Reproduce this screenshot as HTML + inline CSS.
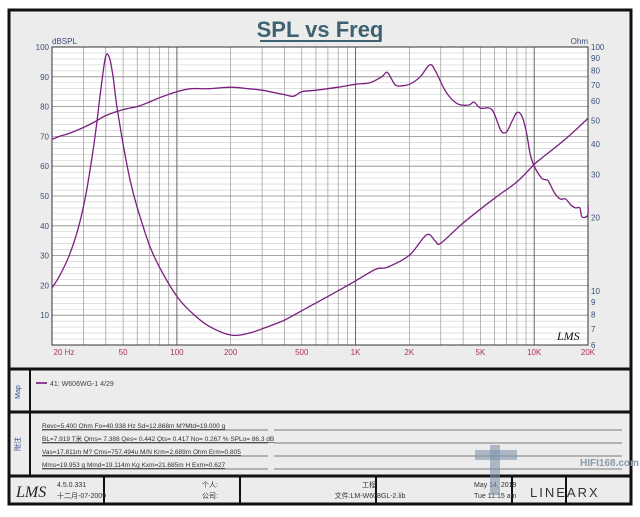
<!DOCTYPE html>
<html><head><meta charset="utf-8"><style>
body{margin:0;width:640px;height:512px;background:#fff;overflow:hidden;font-family:"Liberation Sans","Noto Sans CJK SC",sans-serif}
</style></head><body>
<svg id="s" width="640" height="512" xmlns="http://www.w3.org/2000/svg" font-family="Liberation Sans, Noto Sans CJK SC, sans-serif">
<rect x="0" y="0" width="640" height="512" fill="#fff"/>
<rect x="9" y="10" width="622" height="494" fill="#ececec" stroke="#111" stroke-width="3"/>
<line x1="9" y1="369" x2="631" y2="369" stroke="#111" stroke-width="3"/>
<line x1="9" y1="412" x2="631" y2="412" stroke="#111" stroke-width="3"/>
<line x1="9" y1="476" x2="631" y2="476" stroke="#111" stroke-width="3"/>
<line x1="30" y1="369" x2="30" y2="476" stroke="#111" stroke-width="2"/>
<line x1="104" y1="476" x2="104" y2="504" stroke="#111" stroke-width="2"/>
<line x1="240" y1="476" x2="240" y2="504" stroke="#111" stroke-width="2"/>
<line x1="376" y1="476" x2="376" y2="504" stroke="#111" stroke-width="2"/>
<line x1="512" y1="476" x2="512" y2="504" stroke="#111" stroke-width="2"/>
<line x1="566" y1="476" x2="566" y2="504" stroke="#111" stroke-width="2"/>
<text x="320" y="37" text-anchor="middle" font-size="22" font-weight="bold" fill="#3d6272">SPL vs Freq</text>
<line x1="260" y1="41" x2="381" y2="41" stroke="#3d6272" stroke-width="2"/>
<text x="52" y="44" font-size="8" fill="#3a4f7a">dBSPL</text>
<text x="588" y="44" font-size="8" fill="#3a4f7a" text-anchor="end">Ohm</text>
<rect x="52" y="47" width="536" height="298" fill="#fff"/>
<g id="grid"></g>
<rect x="52" y="47" width="536" height="298" fill="none" stroke="#333" stroke-width="1"/>
<g id="labels" font-size="8" fill="#3a4f7a"></g>
<g id="curves" fill="none" stroke="#7a1f7f" stroke-width="1.3"></g>
<text x="557" y="340" font-size="12" font-style="italic" fill="#111" font-family="Liberation Serif,serif">LMS</text>
<text x="20" y="392" font-size="7" fill="#2a4a8a" transform="rotate(-90 20 392)" text-anchor="middle">Map</text>
<text x="20" y="444" font-size="7" fill="#2a4a8a" transform="rotate(-90 20 444)" text-anchor="middle">附注</text>
<line x1="36" y1="383" x2="47" y2="383" stroke="#8a3f8f" stroke-width="2"/>
<text x="50" y="386" font-size="7" fill="#444">41: W606WG-1  4/29</text>
<g font-size="6.5" fill="#333" text-decoration="underline">
<text x="42" y="428">Revc=5.400 Ohm  Fo=40.938 Hz  Sd=12.868m M?Mtd=19.000 g</text>
<text x="42" y="441">BL=7.919 T米  Qms= 7.388  Qes= 0.442  Qts= 0.417  No= 0.267 %  SPLo= 86.3 dB</text>
<text x="42" y="454">Vas=17.811m M? Cms=757.494u M/N  Krm=2.689m Ohm  Erm=0.805</text>
<text x="42" y="467">Mms=19.953 g  Mmd=19.114m Kg  Kxm=21.685m H  Exm=0.627</text>
</g>
<g stroke="#555" stroke-width="0.8">
<line x1="42" y1="430" x2="268" y2="430"/><line x1="274" y1="430" x2="622" y2="430"/>
<line x1="42" y1="443" x2="268" y2="443"/><line x1="274" y1="443" x2="622" y2="443"/>
<line x1="42" y1="456" x2="268" y2="456"/><line x1="274" y1="456" x2="622" y2="456"/>
<line x1="42" y1="469" x2="268" y2="469"/><line x1="274" y1="469" x2="622" y2="469"/>
</g>
<text x="16" y="497" font-size="16" font-style="italic" fill="#222" font-family="Liberation Serif,serif">LMS</text>
<text x="57" y="487" font-size="7" fill="#333">4.5.0.331</text>
<text x="57" y="498" font-size="7" fill="#333">十二月-07-2009</text>
<text x="210" y="487" font-size="7" fill="#333" text-anchor="middle">个人:</text>
<text x="210" y="498" font-size="7" fill="#333" text-anchor="middle">公司:</text>
<text x="370" y="487" font-size="7" fill="#333" text-anchor="middle">工程:</text>
<text x="370" y="498" font-size="7" fill="#333" text-anchor="middle">文件:LM-W608GL-2.lib</text>
<text x="474" y="487" font-size="7" fill="#333">May 14, 2019</text>
<text x="474" y="498" font-size="7" fill="#333">Tue 11:15 am</text>
<text x="530" y="497" font-size="13" fill="#333" letter-spacing="2">LINEARX</text>
<text x="580" y="466" font-size="10" font-weight="bold" fill="#8a9aaa">HIFI168.com</text>
<rect x="475" y="450" width="42" height="10" fill="#8095aa" opacity="0.6"/>
<rect x="490" y="445" width="10" height="50" fill="#8095aa" opacity="0.6"/>
</svg>
<script>
const NS="http://www.w3.org/2000/svg";
const X0=52,X1=588,Y0=47,Y1=345;
const fx=f=>X0+(Math.log10(f)-Math.log10(20))*(X1-X0)/3;
const dy=d=>Y1-d*2.98;
const zy=z=>Y0+244*Math.log10(100/z);
function el(p,t,a){const e=document.createElementNS(NS,t);for(const k in a)e.setAttribute(k,a[k]);p.appendChild(e);return e;}
const g=document.getElementById('grid'),L=document.getElementById('labels');
for(let d=0;d<=100;d+=2){el(g,'line',{x1:X0,x2:X1,y1:dy(d),y2:dy(d),stroke:d%10==0?'#888':'#ccc','stroke-width':d%10==0?0.8:0.6});}
for(let dec of [10,100,1000,10000])for(let m=1;m<10;m++){const f=dec*m;if(f<20||f>20000)continue;el(g,'line',{x1:fx(f),x2:fx(f),y1:Y0,y2:Y1,stroke:m==1?'#666':'#999','stroke-width':m==1?1:0.7});}
for(let d=10;d<=100;d+=10){const t=el(L,'text',{x:49,y:dy(d)+3,'text-anchor':'end'});t.textContent=d;}
[100,90,80,70,60,50,40,30,20,10,9,8,7,6].forEach(z=>{const t=el(L,'text',{x:591,y:zy(z)+3});t.textContent=z;});
[[20,'20  Hz'],[50,'50'],[100,'100'],[200,'200'],[500,'500'],[1000,'1K'],[2000,'2K'],[5000,'5K'],[10000,'10K'],[20000,'20K']].forEach(([f,s])=>{const t=el(L,'text',{x:fx(f)+(f==20?12:0),y:355,'text-anchor':'middle',fill:'#b03060'});t.textContent=s;});
const spl=[[20,69],[22,70],[25,71],[30,73],[35,75],[40,77],[50,79],[60,80],[70,81.5],[80,83],[100,85],[120,86],[150,86],[200,86.5],[250,86],[300,85.5],[400,84],[450,83.5],[500,85],[600,85.5],[800,86.5],[1000,87.5],[1200,88],[1400,90],[1500,91.5],[1600,89],[1700,87],[2000,87.5],[2300,90],[2600,94],[2800,92],[3200,85],[3700,81],[4300,80.5],[4600,81.5],[5000,79.5],[5800,79],[6500,72],[7000,71.5],[7500,75],[8000,78],[8500,77],[9000,72],[9500,64],[10000,60],[11000,56],[11500,55.5],[12000,55],[13000,51],[14000,49],[15000,49],[16000,47],[17000,46],[18000,46],[18500,43],[19900,43.5],[20000,47]];
const imp=[[20,10.3],[22,11.5],[25,14],[28,18],[31,25],[34,38],[36,52],[38,72],[40,92],[42,90],[44,75],[46,58],[50,40],[55,28],[60,22],[70,15.5],[80,12.5],[100,9.5],[120,8.2],[150,7.2],[200,6.6],[250,6.7],[300,7],[400,7.6],[500,8.3],[700,9.5],[1000,11],[1300,12.3],[1500,12.5],[2000,14],[2500,17],[2800,16],[3000,15.7],[4000,19],[6000,24],[8000,28],[10000,33],[11000,35],[15000,42],[20000,51]];
function path(pts){let d='M'+pts[0][0]+','+pts[0][1];for(let i=0;i<pts.length-1;i++){const p0=pts[Math.max(0,i-1)],p1=pts[i],p2=pts[i+1],p3=pts[Math.min(pts.length-1,i+2)];const c1=[p1[0]+(p2[0]-p0[0])/6,p1[1]+(p2[1]-p0[1])/6],c2=[p2[0]-(p3[0]-p1[0])/6,p2[1]-(p3[1]-p1[1])/6];d+=` C${c1[0].toFixed(1)},${c1[1].toFixed(1)} ${c2[0].toFixed(1)},${c2[1].toFixed(1)} ${p2[0].toFixed(1)},${p2[1].toFixed(1)}`;}return d;}
const C=document.getElementById('curves');
el(C,'path',{d:path(spl.map(([f,d])=>[fx(f),dy(d)]))});
el(C,'path',{d:path(imp.map(([f,z])=>[fx(f),zy(z)]))});
</script>
</body></html>
